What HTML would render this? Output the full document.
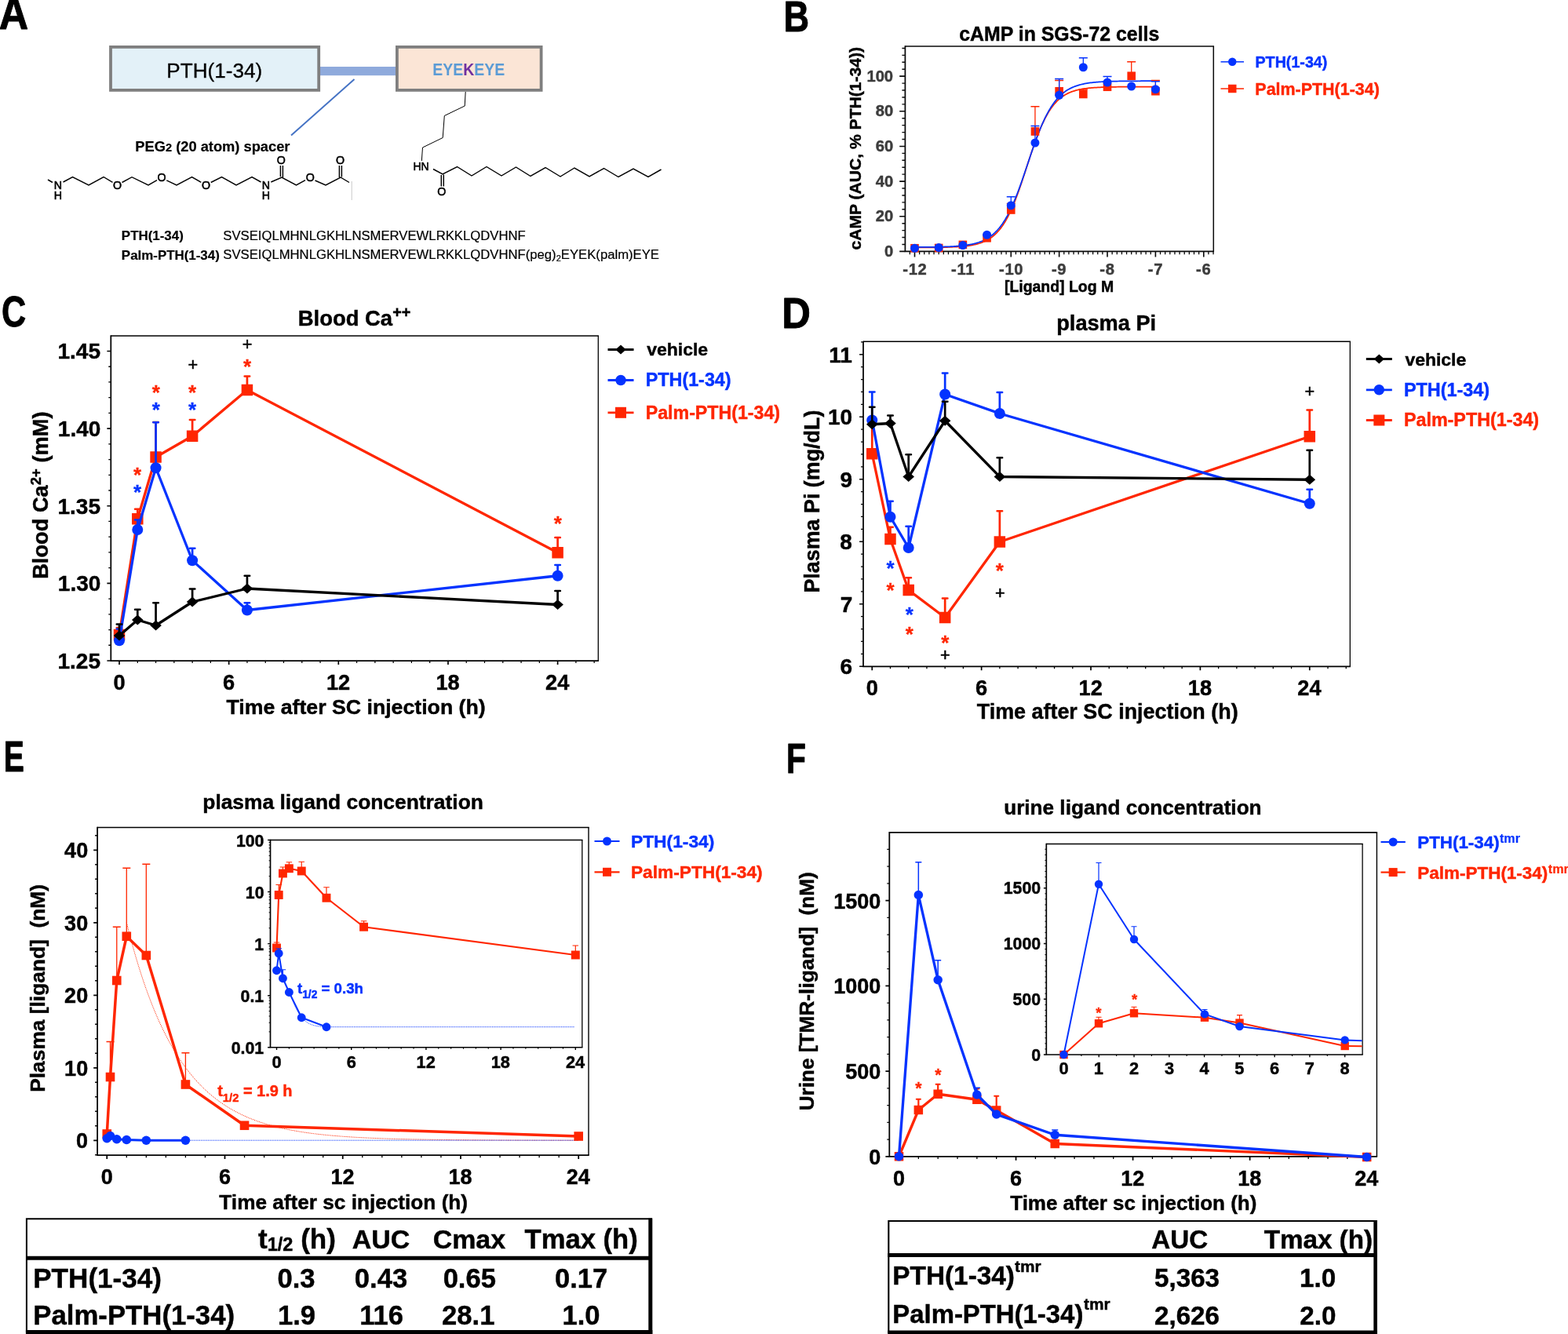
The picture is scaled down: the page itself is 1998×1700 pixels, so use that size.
<!DOCTYPE html>
<html lang="en"><head><meta charset="utf-8"><title>Figure</title>
<style>
html,body{margin:0;padding:0;background:#fff}
svg{display:block}
text{font-family:"Liberation Sans",sans-serif}
</style></head><body>
<svg width="1998" height="1700" viewBox="0 0 1998 1700">
<rect width="1998" height="1700" fill="#fff"/>
<g id="letters">
<text transform="translate(-1.14 37.35) scale(1.2948 1.4145)" font-size="40" font-weight="bold" fill="#000000" stroke="#000000" stroke-width="0.66" stroke-linejoin="round">A</text>
<text transform="translate(998.41 40.35) scale(1.1270 1.3782)" font-size="40" font-weight="bold" fill="#000000" stroke="#000000" stroke-width="0.72" stroke-linejoin="round">B</text>
<text transform="translate(2.12 415.8) scale(1.0802 1.3746)" font-size="40" font-weight="bold" fill="#000000" stroke="#000000" stroke-width="0.73" stroke-linejoin="round">C</text>
<text transform="translate(996.22 418.35) scale(1.2694 1.3709)" font-size="40" font-weight="bold" fill="#000000" stroke="#000000" stroke-width="0.68" stroke-linejoin="round">D</text>
<text transform="translate(4.81 983.15) scale(0.9777 1.3709)" font-size="40" font-weight="bold" fill="#000000" stroke="#000000" stroke-width="0.77" stroke-linejoin="round">E</text>
<text transform="translate(1001.9 985.35) scale(1.0197 1.3564)" font-size="40" font-weight="bold" fill="#000000" stroke="#000000" stroke-width="0.76" stroke-linejoin="round">F</text>
</g>
<g id="panelA">
<rect x="407" y="85" width="98" height="11.2" fill="#8faadc"/>
<rect x="141" y="59.9" width="265.2" height="55" fill="#e3f1f8" stroke="#7f7f7f" stroke-width="3.8"/>
<rect x="505.9" y="59.9" width="183.7" height="55" fill="#fbe5d6" stroke="#7f7f7f" stroke-width="3.8"/>
<text transform="translate(212.35 98.6) scale(0.6523 0.6582)" font-size="40" font-weight="normal" fill="#000" stroke="#000" stroke-width="0.5">PTH(1-34)</text>
<text transform="translate(551.18 96.3) scale(0.4873 0.5745)" font-size="40" font-weight="bold" fill="#5b9bd5">EYE<tspan fill="#7030a0">K</tspan>EYE</text>
<line x1="451.5" y1="101" x2="371" y2="172.5" stroke="#4472c4" stroke-width="1.9"/>
<text x="172.3" y="192.6" font-size="18.3" font-weight="bold" fill="#000" stroke="#000" stroke-width="0.2">PEG<tspan font-size="14.64">2</tspan> (20 atom) spacer</text>
<line x1="61" y1="229" x2="67" y2="232.5" stroke="#000000" stroke-width="1.45"/>
<text x="68.87" y="241.08" font-size="14.2" fill="#000" stroke="#000" stroke-width="0.55">N</text>
<text x="68.87" y="254.48" font-size="14.2" fill="#000" stroke="#000" stroke-width="0.55">H</text>
<path d="M80.5 232 L92.5 225.5 L113 236 L132 225.5 L143.5 232.3" stroke="#000000" stroke-width="1.45" fill="none"/>
<text x="143.98" y="241.08" font-size="14.2" fill="#000" stroke="#000" stroke-width="0.55">O</text>
<path d="M155.5 232.5 L168 225.7 L189 236 L200 229.6" stroke="#000000" stroke-width="1.45" fill="none"/>
<text x="200.48" y="231.18" font-size="14.2" fill="#000" stroke="#000" stroke-width="0.55">O</text>
<path d="M212.3 229.8 L225 236 L244.5 225.5 L256.3 232.3" stroke="#000000" stroke-width="1.45" fill="none"/>
<text x="256.98" y="241.08" font-size="14.2" fill="#000" stroke="#000" stroke-width="0.55">O</text>
<path d="M268.7 232.5 L282.5 225.5 L301 236 L321 225.5 L332.5 232" stroke="#000000" stroke-width="1.45" fill="none"/>
<text x="333.87" y="241.08" font-size="14.2" fill="#000" stroke="#000" stroke-width="0.55">N</text>
<text x="333.87" y="254.48" font-size="14.2" fill="#000" stroke="#000" stroke-width="0.55">H</text>
<path d="M345.3 232 L359 226 L377.5 236 L389 229.6" stroke="#000000" stroke-width="1.45" fill="none"/>
<path d="M357.4 211V225.3M360.4 211V226" stroke="#000000" stroke-width="1.45" fill="none"/>
<text x="352.78" y="209.18" font-size="14.2" fill="#000" stroke="#000" stroke-width="0.55">O</text>
<text x="389.78" y="231.18" font-size="14.2" fill="#000" stroke="#000" stroke-width="0.55">O</text>
<path d="M401.5 230 L415 236 L434 226 L445 232.5" stroke="#000000" stroke-width="1.45" fill="none"/>
<path d="M432.4 211V226M435.4 211V225.5" stroke="#000000" stroke-width="1.45" fill="none"/>
<text x="428.08" y="209.18" font-size="14.2" fill="#000" stroke="#000" stroke-width="0.55">O</text>
<line x1="448.2" y1="231" x2="448.2" y2="255" stroke="#c9c9c9" stroke-width="1"/>
<path d="M593.2 117 L592.2 135 L566.3 147.5 L564.2 175.5 L538.5 188 L537.3 205" stroke="#000000" stroke-width="1" fill="none"/>
<text x="526.38" y="217.41" font-size="14" fill="#000" stroke="#000" stroke-width="0.55">HN</text>
<path d="M552 215.5 L564 222 L582.5 212.5 L601 224 L620 212.5 L639 224 L657.5 213 L676 224.5 L695 213.5 L714 225 L732 214 L751 225 L769.5 214.5 L788 225.5 L807 215 L826 225.5 L842.5 216" stroke="#000000" stroke-width="1.45" fill="none"/>
<path d="M562.3 223V237.5M565.3 222.5V237.5" stroke="#000000" stroke-width="1.45" fill="none"/>
<text x="557.18" y="249.48" font-size="14.2" fill="#000" stroke="#000" stroke-width="0.55">O</text>
<text x="154.86" y="306" font-size="16.92" font-weight="bold" fill="#000000" stroke="#000000" stroke-width="0.2">PTH(1-34)</text>
<text x="284.25" y="306" font-size="16.69" font-weight="normal" fill="#000000" stroke="#000000" stroke-width="0.2">SVSEIQLMHNLGKHLNSMERVEWLRKKLQDVHNF</text>
<text x="154.86" y="331" font-size="16.91" font-weight="bold" fill="#000000" stroke="#000000" stroke-width="0.2">Palm-PTH(1-34)</text>
<text x="284.25" y="330.3" font-size="16.69" fill="#000" stroke="#000" stroke-width="0.2">SVSEIQLMHNLGKHLNSMERVEWLRKKLQDVHNF(peg)<tspan font-size="11.01" dy="2.2">2</tspan><tspan dy="-2.2">EYEK(palm)EYE</tspan></text>
</g>
<g id="panelB">
<path d="M1153.4 59H1547.05" stroke="#0a0a0a" stroke-width="1.61" fill="none"/>
<path d="M1546.3 59V320.4" stroke="#0a0a0a" stroke-width="1.5" fill="none"/>
<path d="M1153.4 58.25V320.4H1547.05" stroke="#0a0a0a" stroke-width="1.75" fill="none"/>
<path d="M1153.4 320.4h-7.2M1153.4 275.75h-7.2M1153.4 231.1h-7.2M1153.4 186.45h-7.2M1153.4 141.8h-7.2M1153.4 97.15h-7.2" stroke="#0a0a0a" stroke-width="1.6" fill="none"/>
<path d="M1153.4 311.47h-4M1153.4 302.54h-4M1153.4 293.61h-4M1153.4 284.68h-4M1153.4 266.82h-4M1153.4 257.89h-4M1153.4 248.96h-4M1153.4 240.03h-4M1153.4 222.17h-4M1153.4 213.24h-4M1153.4 204.31h-4M1153.4 195.38h-4M1153.4 177.52h-4M1153.4 168.59h-4M1153.4 159.66h-4M1153.4 150.73h-4M1153.4 132.87h-4M1153.4 123.94h-4M1153.4 115.01h-4M1153.4 106.08h-4M1153.4 88.22h-4M1153.4 79.29h-4M1153.4 70.36h-4M1153.4 61.43h-4" stroke="#0a0a0a" stroke-width="1.4" fill="none"/>
<path d="M1165.5 320.4v7.2M1226.88 320.4v7.2M1288.26 320.4v7.2M1349.64 320.4v7.2M1411.02 320.4v7.2M1472.4 320.4v7.2M1533.78 320.4v7.2" stroke="#0a0a0a" stroke-width="1.6" fill="none"/>
<path d="M1159.36 320.4v3.8M1171.64 320.4v3.8M1177.78 320.4v3.8M1183.91 320.4v3.8M1190.05 320.4v3.8M1196.19 320.4v3.8M1202.33 320.4v3.8M1208.47 320.4v3.8M1214.6 320.4v3.8M1220.74 320.4v3.8M1233.02 320.4v3.8M1239.16 320.4v3.8M1245.29 320.4v3.8M1251.43 320.4v3.8M1257.57 320.4v3.8M1263.71 320.4v3.8M1269.85 320.4v3.8M1275.98 320.4v3.8M1282.12 320.4v3.8M1294.4 320.4v3.8M1300.54 320.4v3.8M1306.67 320.4v3.8M1312.81 320.4v3.8M1318.95 320.4v3.8M1325.09 320.4v3.8M1331.23 320.4v3.8M1337.36 320.4v3.8M1343.5 320.4v3.8M1355.78 320.4v3.8M1361.92 320.4v3.8M1368.05 320.4v3.8M1374.19 320.4v3.8M1380.33 320.4v3.8M1386.47 320.4v3.8M1392.61 320.4v3.8M1398.74 320.4v3.8M1404.88 320.4v3.8M1417.16 320.4v3.8M1423.3 320.4v3.8M1429.43 320.4v3.8M1435.57 320.4v3.8M1441.71 320.4v3.8M1447.85 320.4v3.8M1453.99 320.4v3.8M1460.12 320.4v3.8M1466.26 320.4v3.8M1478.54 320.4v3.8M1484.68 320.4v3.8M1490.81 320.4v3.8M1496.95 320.4v3.8M1503.09 320.4v3.8M1509.23 320.4v3.8M1515.37 320.4v3.8M1521.5 320.4v3.8M1527.64 320.4v3.8M1539.92 320.4v3.8M1546.06 320.4v3.8" stroke="#0a0a0a" stroke-width="1.3" fill="none"/>
<path d="M1165.5 315.45 L1167.03 315.45 L1168.57 315.44 L1170.1 315.44 L1171.64 315.43 L1173.17 315.43 L1174.71 315.42 L1176.24 315.41 L1177.78 315.41 L1179.31 315.4 L1180.85 315.39 L1182.38 315.38 L1183.91 315.37 L1185.45 315.36 L1186.98 315.35 L1188.52 315.33 L1190.05 315.32 L1191.59 315.3 L1193.12 315.28 L1194.66 315.26 L1196.19 315.24 L1197.72 315.22 L1199.26 315.19 L1200.79 315.16 L1202.33 315.13 L1203.86 315.1 L1205.4 315.06 L1206.93 315.02 L1208.47 314.97 L1210 314.93 L1211.54 314.87 L1213.07 314.81 L1214.6 314.75 L1216.14 314.68 L1217.67 314.6 L1219.21 314.51 L1220.74 314.42 L1222.28 314.32 L1223.81 314.2 L1225.35 314.08 L1226.88 313.95 L1228.41 313.8 L1229.95 313.64 L1231.48 313.46 L1233.02 313.27 L1234.55 313.05 L1236.09 312.82 L1237.62 312.57 L1239.16 312.29 L1240.69 311.99 L1242.22 311.66 L1243.76 311.29 L1245.29 310.9 L1246.83 310.47 L1248.36 310 L1249.9 309.48 L1251.43 308.92 L1252.97 308.31 L1254.5 307.64 L1256.04 306.92 L1257.57 306.13 L1259.1 305.27 L1260.64 304.34 L1262.17 303.32 L1263.71 302.23 L1265.24 301.04 L1266.78 299.75 L1268.31 298.36 L1269.85 296.86 L1271.38 295.24 L1272.91 293.49 L1274.45 291.62 L1275.98 289.61 L1277.52 287.45 L1279.05 285.15 L1280.59 282.69 L1282.12 280.07 L1283.66 277.29 L1285.19 274.34 L1286.73 271.23 L1288.26 267.95 L1289.79 264.51 L1291.33 260.9 L1292.86 257.13 L1294.4 253.21 L1295.93 249.15 L1297.47 244.95 L1299 240.63 L1300.54 236.2 L1302.07 231.68 L1303.61 227.08 L1305.14 222.43 L1306.67 217.73 L1308.21 213.02 L1309.74 208.3 L1311.28 203.61 L1312.81 198.95 L1314.35 194.35 L1315.88 189.83 L1317.42 185.4 L1318.95 181.08 L1320.48 176.88 L1322.02 172.82 L1323.55 168.9 L1325.09 165.14 L1326.62 161.53 L1328.16 158.08 L1329.69 154.8 L1331.23 151.69 L1332.76 148.74 L1334.3 145.96 L1335.83 143.35 L1337.36 140.89 L1338.9 138.58 L1340.43 136.43 L1341.97 134.42 L1343.5 132.54 L1345.04 130.8 L1346.57 129.18 L1348.11 127.67 L1349.64 126.28 L1351.17 125 L1352.71 123.81 L1354.24 122.71 L1355.78 121.7 L1357.31 120.76 L1358.85 119.91 L1360.38 119.12 L1361.92 118.39 L1363.45 117.73 L1364.99 117.11 L1366.52 116.55 L1368.05 116.04 L1369.59 115.57 L1371.12 115.13 L1372.66 114.74 L1374.19 114.38 L1375.73 114.05 L1377.26 113.74 L1378.8 113.47 L1380.33 113.21 L1381.86 112.98 L1383.4 112.77 L1384.93 112.57 L1386.47 112.4 L1388 112.24 L1389.54 112.09 L1391.07 111.95 L1392.61 111.83 L1394.14 111.72 L1395.67 111.61 L1397.21 111.52 L1398.74 111.44 L1400.28 111.36 L1401.81 111.29 L1403.35 111.22 L1404.88 111.16 L1406.42 111.11 L1407.95 111.06 L1409.49 111.01 L1411.02 110.97 L1412.55 110.93 L1414.09 110.9 L1415.62 110.87 L1417.16 110.84 L1418.69 110.81 L1420.23 110.79 L1421.76 110.77 L1423.3 110.75 L1424.83 110.73 L1426.37 110.72 L1427.9 110.7 L1429.43 110.69 L1430.97 110.67 L1432.5 110.66 L1434.04 110.65 L1435.57 110.64 L1437.11 110.63 L1438.64 110.63 L1440.18 110.62 L1441.71 110.61 L1443.24 110.61 L1444.78 110.6 L1446.31 110.6 L1447.85 110.59 L1449.38 110.59 L1450.92 110.58 L1452.45 110.58 L1453.99 110.58 L1455.52 110.57 L1457.06 110.57 L1458.59 110.57 L1460.12 110.57 L1461.66 110.57 L1463.19 110.56 L1464.73 110.56 L1466.26 110.56 L1467.8 110.56 L1469.33 110.56 L1470.87 110.56 L1472.4 110.56" stroke="#ff2600" stroke-width="1.75" fill="none" stroke-linejoin="round"/>
<path d="M1165.5 314.98 L1167.03 314.97 L1168.57 314.97 L1170.1 314.96 L1171.64 314.95 L1173.17 314.94 L1174.71 314.93 L1176.24 314.92 L1177.78 314.91 L1179.31 314.9 L1180.85 314.89 L1182.38 314.88 L1183.91 314.86 L1185.45 314.84 L1186.98 314.83 L1188.52 314.81 L1190.05 314.79 L1191.59 314.76 L1193.12 314.74 L1194.66 314.71 L1196.19 314.68 L1197.72 314.65 L1199.26 314.61 L1200.79 314.57 L1202.33 314.53 L1203.86 314.49 L1205.4 314.44 L1206.93 314.38 L1208.47 314.32 L1210 314.26 L1211.54 314.19 L1213.07 314.11 L1214.6 314.03 L1216.14 313.94 L1217.67 313.84 L1219.21 313.73 L1220.74 313.61 L1222.28 313.48 L1223.81 313.34 L1225.35 313.19 L1226.88 313.03 L1228.41 312.85 L1229.95 312.65 L1231.48 312.44 L1233.02 312.21 L1234.55 311.95 L1236.09 311.68 L1237.62 311.38 L1239.16 311.06 L1240.69 310.71 L1242.22 310.32 L1243.76 309.91 L1245.29 309.46 L1246.83 308.97 L1248.36 308.44 L1249.9 307.86 L1251.43 307.24 L1252.97 306.56 L1254.5 305.83 L1256.04 305.04 L1257.57 304.18 L1259.1 303.26 L1260.64 302.26 L1262.17 301.18 L1263.71 300.02 L1265.24 298.77 L1266.78 297.43 L1268.31 295.98 L1269.85 294.43 L1271.38 292.77 L1272.91 290.99 L1274.45 289.08 L1275.98 287.05 L1277.52 284.89 L1279.05 282.58 L1280.59 280.14 L1282.12 277.55 L1283.66 274.81 L1285.19 271.92 L1286.73 268.88 L1288.26 265.68 L1289.79 262.34 L1291.33 258.85 L1292.86 255.21 L1294.4 251.43 L1295.93 247.53 L1297.47 243.49 L1299 239.35 L1300.54 235.1 L1302.07 230.75 L1303.61 226.33 L1305.14 221.85 L1306.67 217.33 L1308.21 212.77 L1309.74 208.2 L1311.28 203.63 L1312.81 199.08 L1314.35 194.57 L1315.88 190.11 L1317.42 185.72 L1318.95 181.41 L1320.48 177.2 L1322.02 173.1 L1323.55 169.12 L1325.09 165.26 L1326.62 161.54 L1328.16 157.96 L1329.69 154.53 L1331.23 151.24 L1332.76 148.11 L1334.3 145.13 L1335.83 142.3 L1337.36 139.62 L1338.9 137.09 L1340.43 134.7 L1341.97 132.45 L1343.5 130.34 L1345.04 128.36 L1346.57 126.51 L1348.11 124.77 L1349.64 123.16 L1351.17 121.65 L1352.71 120.24 L1354.24 118.94 L1355.78 117.72 L1357.31 116.59 L1358.85 115.55 L1360.38 114.58 L1361.92 113.68 L1363.45 112.86 L1364.99 112.09 L1366.52 111.38 L1368.05 110.73 L1369.59 110.12 L1371.12 109.56 L1372.66 109.05 L1374.19 108.58 L1375.73 108.14 L1377.26 107.74 L1378.8 107.37 L1380.33 107.03 L1381.86 106.72 L1383.4 106.43 L1384.93 106.16 L1386.47 105.92 L1388 105.69 L1389.54 105.49 L1391.07 105.3 L1392.61 105.13 L1394.14 104.97 L1395.67 104.82 L1397.21 104.68 L1398.74 104.56 L1400.28 104.45 L1401.81 104.34 L1403.35 104.25 L1404.88 104.16 L1406.42 104.08 L1407.95 104 L1409.49 103.94 L1411.02 103.87 L1412.55 103.82 L1414.09 103.76 L1415.62 103.71 L1417.16 103.67 L1418.69 103.63 L1420.23 103.59 L1421.76 103.56 L1423.3 103.53 L1424.83 103.5 L1426.37 103.47 L1427.9 103.45 L1429.43 103.42 L1430.97 103.4 L1432.5 103.39 L1434.04 103.37 L1435.57 103.35 L1437.11 103.34 L1438.64 103.33 L1440.18 103.31 L1441.71 103.3 L1443.24 103.29 L1444.78 103.28 L1446.31 103.27 L1447.85 103.27 L1449.38 103.26 L1450.92 103.25 L1452.45 103.25 L1453.99 103.24 L1455.52 103.23 L1457.06 103.23 L1458.59 103.23 L1460.12 103.22 L1461.66 103.22 L1463.19 103.21 L1464.73 103.21 L1466.26 103.21 L1467.8 103.21 L1469.33 103.2 L1470.87 103.2 L1472.4 103.2" stroke="#0433ff" stroke-width="1.75" fill="none" stroke-linejoin="round"/>
<path d="M1288.26 267.5V259.5M1282.76 259.5H1293.76" stroke="#ff2600" stroke-width="1.3" fill="none"/>
<path d="M1318.95 167.5V135.75M1313.45 135.75H1324.45" stroke="#ff2600" stroke-width="1.3" fill="none"/>
<path d="M1349.64 116.25V102.5M1344.14 102.5H1355.14" stroke="#ff2600" stroke-width="1.3" fill="none"/>
<path d="M1380.33 120V114M1374.83 114H1385.83" stroke="#ff2600" stroke-width="1.3" fill="none"/>
<path d="M1441.71 96.75V78.75M1436.21 78.75H1447.21" stroke="#ff2600" stroke-width="1.3" fill="none"/>
<path d="M1472.4 116.25V102.5M1466.9 102.5H1477.9" stroke="#ff2600" stroke-width="1.3" fill="none"/>
<rect x="1160.2" y="310.95" width="10.6" height="10.6" fill="#ff2600"/>
<rect x="1190.89" y="310.7" width="10.6" height="10.6" fill="#ff2600"/>
<rect x="1221.58" y="306.6" width="10.6" height="10.6" fill="#ff2600"/>
<rect x="1252.27" y="298" width="10.6" height="10.6" fill="#ff2600"/>
<rect x="1282.96" y="262.2" width="10.6" height="10.6" fill="#ff2600"/>
<rect x="1313.65" y="162.2" width="10.6" height="10.6" fill="#ff2600"/>
<rect x="1344.34" y="110.95" width="10.6" height="10.6" fill="#ff2600"/>
<rect x="1375.03" y="114.7" width="10.6" height="10.6" fill="#ff2600"/>
<rect x="1405.72" y="105.45" width="10.6" height="10.6" fill="#ff2600"/>
<rect x="1436.41" y="91.45" width="10.6" height="10.6" fill="#ff2600"/>
<rect x="1467.1" y="110.95" width="10.6" height="10.6" fill="#ff2600"/>
<path d="M1288.26 261.75V250.75M1282.76 250.75H1293.76" stroke="#0433ff" stroke-width="1.3" fill="none"/>
<path d="M1318.95 182V160.5M1313.45 160.5H1324.45" stroke="#0433ff" stroke-width="1.3" fill="none"/>
<path d="M1349.64 121.25V100.5M1344.14 100.5H1355.14" stroke="#0433ff" stroke-width="1.3" fill="none"/>
<path d="M1380.33 85.75V73.75M1374.83 73.75H1385.83" stroke="#0433ff" stroke-width="1.3" fill="none"/>
<path d="M1411.02 105V97.5M1405.52 97.5H1416.52" stroke="#0433ff" stroke-width="1.3" fill="none"/>
<path d="M1472.4 113.75V103.75M1466.9 103.75H1477.9" stroke="#0433ff" stroke-width="1.3" fill="none"/>
<circle cx="1165.5" cy="316.25" r="5.5" fill="#0433ff"/>
<circle cx="1196.19" cy="315.5" r="5.5" fill="#0433ff"/>
<circle cx="1226.88" cy="312.5" r="5.5" fill="#0433ff"/>
<circle cx="1257.57" cy="299.25" r="5.5" fill="#0433ff"/>
<circle cx="1288.26" cy="261.75" r="5.5" fill="#0433ff"/>
<circle cx="1318.95" cy="182" r="5.5" fill="#0433ff"/>
<circle cx="1349.64" cy="121.25" r="5.5" fill="#0433ff"/>
<circle cx="1380.33" cy="85.75" r="5.5" fill="#0433ff"/>
<circle cx="1411.02" cy="105" r="5.5" fill="#0433ff"/>
<circle cx="1441.71" cy="110" r="5.5" fill="#0433ff"/>
<circle cx="1472.4" cy="113.75" r="5.5" fill="#0433ff"/>
<text x="1126.9" y="326.9" font-size="20.2" font-weight="bold" fill="#3c3c3c" stroke="#3c3c3c" stroke-width="0.45">0</text>
<text x="1115.69" y="282.25" font-size="20.2" font-weight="bold" fill="#3c3c3c" stroke="#3c3c3c" stroke-width="0.45">20</text>
<text x="1115.69" y="237.6" font-size="20.2" font-weight="bold" fill="#3c3c3c" stroke="#3c3c3c" stroke-width="0.45">40</text>
<text x="1115.69" y="192.95" font-size="20.2" font-weight="bold" fill="#3c3c3c" stroke="#3c3c3c" stroke-width="0.45">60</text>
<text x="1115.69" y="148.3" font-size="20.2" font-weight="bold" fill="#3c3c3c" stroke="#3c3c3c" stroke-width="0.45">80</text>
<text x="1104.42" y="103.65" font-size="20.2" font-weight="bold" fill="#3c3c3c" stroke="#3c3c3c" stroke-width="0.45">100</text>
<text x="1150.21" y="350.2" font-size="20.2" font-weight="bold" fill="#3c3c3c" letter-spacing="0.7" stroke="#3c3c3c" stroke-width="0.45">-12</text>
<text x="1212.01" y="350.2" font-size="20.2" font-weight="bold" fill="#3c3c3c" letter-spacing="0.7" stroke="#3c3c3c" stroke-width="0.45">-11</text>
<text x="1272.97" y="350.2" font-size="20.2" font-weight="bold" fill="#3c3c3c" letter-spacing="0.7" stroke="#3c3c3c" stroke-width="0.45">-10</text>
<text x="1339.93" y="350.2" font-size="20.2" font-weight="bold" fill="#3c3c3c" letter-spacing="0.7" stroke="#3c3c3c" stroke-width="0.45">-9</text>
<text x="1401.26" y="350.2" font-size="20.2" font-weight="bold" fill="#3c3c3c" letter-spacing="0.7" stroke="#3c3c3c" stroke-width="0.45">-8</text>
<text x="1462.76" y="350.2" font-size="20.2" font-weight="bold" fill="#3c3c3c" letter-spacing="0.7" stroke="#3c3c3c" stroke-width="0.45">-7</text>
<text x="1524.07" y="350.2" font-size="20.2" font-weight="bold" fill="#3c3c3c" letter-spacing="0.7" stroke="#3c3c3c" stroke-width="0.45">-6</text>
<text x="1279.93" y="372.4" font-size="19.45" font-weight="bold" fill="#000000" stroke="#000000" stroke-width="0.45">[Ligand] Log M</text>
<text x="1222.31" y="51.8" font-size="24.85" font-weight="bold" fill="#000000" stroke="#000000" stroke-width="0.45">cAMP in SGS-72 cells</text>
<text transform="translate(1097.4 318.44) rotate(-90)" font-size="21.08" font-weight="bold" fill="#000000" stroke="#000000" stroke-width="0.45">cAMP (AUC, % PTH(1-34))</text>
<line x1="1555.5" y1="78.8" x2="1585" y2="78.8" stroke="#0433ff" stroke-width="1.5"/>
<circle cx="1570.25" cy="78.8" r="5.25" fill="#0433ff"/>
<text x="1599.47" y="86.2" font-size="19.71" font-weight="bold" fill="#0433ff" stroke="#0433ff" stroke-width="0.45">PTH(1-34)</text>
<line x1="1555.5" y1="113" x2="1585" y2="113" stroke="#ff2600" stroke-width="1.5"/>
<rect x="1565" y="107.75" width="10.5" height="10.5" fill="#ff2600"/>
<text x="1599.35" y="120.5" font-size="21.45" font-weight="bold" fill="#ff2600" stroke="#ff2600" stroke-width="0.45">Palm-PTH(1-34)</text>
</g>
<g id="panelC">
<path d="M141.3 428H762.95" stroke="#000000" stroke-width="1.61" fill="none"/>
<path d="M762.3 428V842" stroke="#000000" stroke-width="1.3" fill="none"/>
<path d="M141.3 427.35V842H762.95" stroke="#000000" stroke-width="1.75" fill="none"/>
<path d="M141.3 842h-4.9M141.3 743.37h-4.9M141.3 644.75h-4.9M141.3 546.13h-4.9M141.3 447.5h-4.9" stroke="#000000" stroke-width="1.7" fill="none"/>
<path d="M141.3 822.27h-3M141.3 802.55h-3M141.3 782.82h-3M141.3 763.1h-3M141.3 723.65h-3M141.3 703.92h-3M141.3 684.2h-3M141.3 664.47h-3M141.3 625.02h-3M141.3 605.3h-3M141.3 585.58h-3M141.3 565.85h-3M141.3 526.4h-3M141.3 506.68h-3M141.3 486.95h-3M141.3 467.23h-3" stroke="#000000" stroke-width="1.3" fill="none"/>
<path d="M152 842v4.9M291.65 842v4.9M431.3 842v4.9M570.95 842v4.9M710.6 842v4.9" stroke="#000000" stroke-width="1.7" fill="none"/>
<path d="M175.28 842v3M198.55 842v3M221.82 842v3M245.1 842v3M268.38 842v3M314.92 842v3M338.2 842v3M361.48 842v3M384.75 842v3M408.02 842v3M454.57 842v3M477.85 842v3M501.12 842v3M524.4 842v3M547.67 842v3M594.22 842v3M617.5 842v3M640.77 842v3M664.05 842v3M687.32 842v3M733.88 842v3M757.15 842v3" stroke="#000000" stroke-width="1.3" fill="none"/>
<path d="M152 809V800M148.8 800H155.2" stroke="#ff2600" stroke-width="2.7" fill="none" stroke-linecap="round"/>
<path d="M175.28 661.25V648.75M172.08 648.75H178.47" stroke="#ff2600" stroke-width="2.7" fill="none" stroke-linecap="round"/>
<path d="M198.55 582.5V538M195.35 538H201.75" stroke="#ff2600" stroke-width="2.7" fill="none" stroke-linecap="round"/>
<path d="M245.1 555.75V535M241.9 535H248.3" stroke="#ff2600" stroke-width="2.7" fill="none" stroke-linecap="round"/>
<path d="M314.92 497V479.5M311.72 479.5H318.12" stroke="#ff2600" stroke-width="2.7" fill="none" stroke-linecap="round"/>
<path d="M710.6 704.25V685M707.4 685H713.8" stroke="#ff2600" stroke-width="2.7" fill="none" stroke-linecap="round"/>
<path d="M152 809 L175.28 661.25 L198.55 582.5 L245.1 555.75 L314.92 497 L710.6 704.25" stroke="#ff2600" stroke-width="3.3" fill="none" stroke-linejoin="round"/>
<rect x="144.75" y="801.75" width="14.5" height="14.5" fill="#ff2600"/>
<rect x="168.03" y="654" width="14.5" height="14.5" fill="#ff2600"/>
<rect x="191.3" y="575.25" width="14.5" height="14.5" fill="#ff2600"/>
<rect x="237.85" y="548.5" width="14.5" height="14.5" fill="#ff2600"/>
<rect x="307.67" y="489.75" width="14.5" height="14.5" fill="#ff2600"/>
<rect x="703.35" y="697" width="14.5" height="14.5" fill="#ff2600"/>
<path d="M152 816.25V801.5M148.8 801.5H155.2" stroke="#0433ff" stroke-width="2.7" fill="none" stroke-linecap="round"/>
<path d="M175.28 675V662.5M172.08 662.5H178.47" stroke="#0433ff" stroke-width="2.7" fill="none" stroke-linecap="round"/>
<path d="M198.55 596.25V538.25M195.35 538.25H201.75" stroke="#0433ff" stroke-width="2.7" fill="none" stroke-linecap="round"/>
<path d="M245.1 714.25V698.75M241.9 698.75H248.3" stroke="#0433ff" stroke-width="2.7" fill="none" stroke-linecap="round"/>
<path d="M314.92 777.5V768.25M311.72 768.25H318.12" stroke="#0433ff" stroke-width="2.7" fill="none" stroke-linecap="round"/>
<path d="M710.6 733.75V720M707.4 720H713.8" stroke="#0433ff" stroke-width="2.7" fill="none" stroke-linecap="round"/>
<path d="M152 816.25 L175.28 675 L198.55 596.25 L245.1 714.25 L314.92 777.5 L710.6 733.75" stroke="#0433ff" stroke-width="3.3" fill="none" stroke-linejoin="round"/>
<circle cx="152" cy="816.25" r="7" fill="#0433ff"/>
<circle cx="175.28" cy="675" r="7" fill="#0433ff"/>
<circle cx="198.55" cy="596.25" r="7" fill="#0433ff"/>
<circle cx="245.1" cy="714.25" r="7" fill="#0433ff"/>
<circle cx="314.92" cy="777.5" r="7" fill="#0433ff"/>
<circle cx="710.6" cy="733.75" r="7" fill="#0433ff"/>
<path d="M152 810V795.5M148.8 795.5H155.2" stroke="#000000" stroke-width="2.7" fill="none" stroke-linecap="round"/>
<path d="M175.28 790V776.75M172.08 776.75H178.47" stroke="#000000" stroke-width="2.7" fill="none" stroke-linecap="round"/>
<path d="M198.55 797V768.25M195.35 768.25H201.75" stroke="#000000" stroke-width="2.7" fill="none" stroke-linecap="round"/>
<path d="M245.1 767V750.5M241.9 750.5H248.3" stroke="#000000" stroke-width="2.7" fill="none" stroke-linecap="round"/>
<path d="M314.92 750V733.75M311.72 733.75H318.12" stroke="#000000" stroke-width="2.7" fill="none" stroke-linecap="round"/>
<path d="M710.6 770.5V753M707.4 753H713.8" stroke="#000000" stroke-width="2.7" fill="none" stroke-linecap="round"/>
<path d="M152 810 L175.28 790 L198.55 797 L245.1 767 L314.92 750 L710.6 770.5" stroke="#000000" stroke-width="3.3" fill="none" stroke-linejoin="round"/>
<path d="M152 803.58L159.3 810L152 816.42L144.7 810Z" fill="#000000"/>
<path d="M175.28 783.58L182.58 790L175.28 796.42L167.97 790Z" fill="#000000"/>
<path d="M198.55 790.58L205.85 797L198.55 803.42L191.25 797Z" fill="#000000"/>
<path d="M245.1 760.58L252.4 767L245.1 773.42L237.8 767Z" fill="#000000"/>
<path d="M314.92 743.58L322.22 750L314.92 756.42L307.62 750Z" fill="#000000"/>
<path d="M710.6 764.08L717.9 770.5L710.6 776.92L703.3 770.5Z" fill="#000000"/>
<text x="73.51" y="851.8" font-size="28" font-weight="bold" fill="#000000" stroke="#000000" stroke-width="0.45">1.25</text>
<text x="73.86" y="753.17" font-size="28" font-weight="bold" fill="#000000" stroke="#000000" stroke-width="0.45">1.30</text>
<text x="73.51" y="654.55" font-size="28" font-weight="bold" fill="#000000" stroke="#000000" stroke-width="0.45">1.35</text>
<text x="73.86" y="555.93" font-size="28" font-weight="bold" fill="#000000" stroke="#000000" stroke-width="0.45">1.40</text>
<text x="73.51" y="457.3" font-size="28" font-weight="bold" fill="#000000" stroke="#000000" stroke-width="0.45">1.45</text>
<text x="144.45" y="879.4" font-size="27.2" font-weight="bold" fill="#000000" stroke="#000000" stroke-width="0.45">0</text>
<text x="284.07" y="879.4" font-size="27.2" font-weight="bold" fill="#000000" stroke="#000000" stroke-width="0.45">6</text>
<text x="415.9" y="879.4" font-size="27.2" font-weight="bold" fill="#000000" stroke="#000000" stroke-width="0.45">12</text>
<text x="555.41" y="879.4" font-size="27.2" font-weight="bold" fill="#000000" stroke="#000000" stroke-width="0.45">18</text>
<text x="695.1" y="879.4" font-size="27.2" font-weight="bold" fill="#000000" stroke="#000000" stroke-width="0.45">24</text>
<text x="288.53" y="909.6" font-size="26.7" font-weight="bold" fill="#000000" stroke="#000000" stroke-width="0.45">Time after SC injection (h)</text>
<text x="379.75" y="415" font-size="27.43" font-weight="bold" fill="#000000" stroke="#000000" stroke-width="0.45">Blood Ca</text>
<text x="500.2" y="404.85" font-size="19.75" font-weight="bold" fill="#000000" stroke="#000000" stroke-width="0.45">++</text>
<text transform="translate(61.3 737.84) rotate(-90)" font-size="27.26" font-weight="bold" fill="#000000" stroke="#000000" stroke-width="0.45">Blood Ca<tspan font-size="68%" dy="-0.5em">2+</tspan><tspan dy="0.34em"> (mM)</tspan></text>
<text x="193.69" y="509.02" font-size="25.97" font-weight="bold" fill="#ff2600" stroke="#ff2600" stroke-width="0.3">*</text>
<text x="193.69" y="531.02" font-size="25.97" font-weight="bold" fill="#0433ff" stroke="#0433ff" stroke-width="0.3">*</text>
<text x="239.94" y="509.02" font-size="25.97" font-weight="bold" fill="#ff2600" stroke="#ff2600" stroke-width="0.3">*</text>
<text x="239.94" y="531.02" font-size="25.97" font-weight="bold" fill="#0433ff" stroke="#0433ff" stroke-width="0.3">*</text>
<text x="309.94" y="475.52" font-size="25.97" font-weight="bold" fill="#ff2600" stroke="#ff2600" stroke-width="0.3">*</text>
<text x="169.94" y="614.02" font-size="25.97" font-weight="bold" fill="#ff2600" stroke="#ff2600" stroke-width="0.3">*</text>
<text x="169.94" y="636.02" font-size="25.97" font-weight="bold" fill="#0433ff" stroke="#0433ff" stroke-width="0.3">*</text>
<text x="705.69" y="676.02" font-size="25.97" font-weight="bold" fill="#ff2600" stroke="#ff2600" stroke-width="0.3">*</text>
<text x="239.42" y="472.2" font-size="21.65" font-weight="normal" fill="#000000" stroke="#000000" stroke-width="0.55">+</text>
<text x="308.67" y="445.95" font-size="21.65" font-weight="normal" fill="#000000" stroke="#000000" stroke-width="0.55">+</text>
<line x1="774.5" y1="445.5" x2="807.5" y2="445.5" stroke="#000000" stroke-width="2.8"/>
<path d="M791 439.56L797.75 445.5L791 451.44L784.25 445.5Z" fill="#000000"/>
<text x="824.19" y="453.3" font-size="22.97" font-weight="bold" fill="#000000" stroke="#000000" stroke-width="0.45">vehicle</text>
<line x1="774.5" y1="484.5" x2="807.5" y2="484.5" stroke="#0433ff" stroke-width="2.8"/>
<circle cx="791" cy="484.5" r="6.75" fill="#0433ff"/>
<text x="822.72" y="492" font-size="23.34" font-weight="bold" fill="#0433ff" stroke="#0433ff" stroke-width="0.45">PTH(1-34)</text>
<line x1="774.5" y1="525.8" x2="807.5" y2="525.8" stroke="#ff2600" stroke-width="2.8"/>
<rect x="784" y="518.8" width="14" height="14" fill="#ff2600"/>
<text x="822.73" y="533.8" font-size="23.2" font-weight="bold" fill="#ff2600" stroke="#ff2600" stroke-width="0.45">Palm-PTH(1-34)</text>
</g>
<g id="panelD">
<path d="M1100 435.3H1720.95" stroke="#000000" stroke-width="1.61" fill="none"/>
<path d="M1720.3 435.3V849.3" stroke="#000000" stroke-width="1.3" fill="none"/>
<path d="M1100 434.65V849.3H1720.95" stroke="#000000" stroke-width="1.75" fill="none"/>
<path d="M1100 849.25h-4.9M1100 769.75h-4.9M1100 690.25h-4.9M1100 610.75h-4.9M1100 531.25h-4.9M1100 451.75h-4.9" stroke="#000000" stroke-width="1.7" fill="none"/>
<path d="M1100 833.35h-3M1100 817.45h-3M1100 801.55h-3M1100 785.65h-3M1100 753.85h-3M1100 737.95h-3M1100 722.05h-3M1100 706.15h-3M1100 674.35h-3M1100 658.45h-3M1100 642.55h-3M1100 626.65h-3M1100 594.85h-3M1100 578.95h-3M1100 563.05h-3M1100 547.15h-3M1100 515.35h-3M1100 499.45h-3M1100 483.55h-3M1100 467.65h-3M1100 435.85h-3" stroke="#000000" stroke-width="1.3" fill="none"/>
<path d="M1111.25 849.3v4.9M1250.63 849.3v4.9M1390.01 849.3v4.9M1529.39 849.3v4.9M1668.77 849.3v4.9" stroke="#000000" stroke-width="1.7" fill="none"/>
<path d="M1134.48 849.3v3M1157.71 849.3v3M1180.94 849.3v3M1204.17 849.3v3M1227.4 849.3v3M1273.86 849.3v3M1297.09 849.3v3M1320.32 849.3v3M1343.55 849.3v3M1366.78 849.3v3M1413.24 849.3v3M1436.47 849.3v3M1459.7 849.3v3M1482.93 849.3v3M1506.16 849.3v3M1552.62 849.3v3M1575.85 849.3v3M1599.08 849.3v3M1622.31 849.3v3M1645.54 849.3v3M1692 849.3v3M1715.23 849.3v3" stroke="#000000" stroke-width="1.3" fill="none"/>
<path d="M1111.25 578.25V541.5M1108.05 541.5H1114.45" stroke="#ff2600" stroke-width="2.7" fill="none" stroke-linecap="round"/>
<path d="M1134.48 687V671.75M1131.28 671.75H1137.68" stroke="#ff2600" stroke-width="2.7" fill="none" stroke-linecap="round"/>
<path d="M1157.71 752V736.25M1154.51 736.25H1160.91" stroke="#ff2600" stroke-width="2.7" fill="none" stroke-linecap="round"/>
<path d="M1204.17 787V762.5M1200.97 762.5H1207.37" stroke="#ff2600" stroke-width="2.7" fill="none" stroke-linecap="round"/>
<path d="M1273.86 690.5V651.25M1270.66 651.25H1277.06" stroke="#ff2600" stroke-width="2.7" fill="none" stroke-linecap="round"/>
<path d="M1668.77 556.25V522.5M1665.57 522.5H1671.97" stroke="#ff2600" stroke-width="2.7" fill="none" stroke-linecap="round"/>
<path d="M1111.25 578.25 L1134.48 687 L1157.71 752 L1204.17 787 L1273.86 690.5 L1668.77 556.25" stroke="#ff2600" stroke-width="3.3" fill="none" stroke-linejoin="round"/>
<rect x="1104" y="571" width="14.5" height="14.5" fill="#ff2600"/>
<rect x="1127.23" y="679.75" width="14.5" height="14.5" fill="#ff2600"/>
<rect x="1150.46" y="744.75" width="14.5" height="14.5" fill="#ff2600"/>
<rect x="1196.92" y="779.75" width="14.5" height="14.5" fill="#ff2600"/>
<rect x="1266.61" y="683.25" width="14.5" height="14.5" fill="#ff2600"/>
<rect x="1661.52" y="549" width="14.5" height="14.5" fill="#ff2600"/>
<path d="M1111.25 535.5V499.5M1108.05 499.5H1114.45" stroke="#0433ff" stroke-width="2.7" fill="none" stroke-linecap="round"/>
<path d="M1134.48 658.75V638.75M1131.28 638.75H1137.68" stroke="#0433ff" stroke-width="2.7" fill="none" stroke-linecap="round"/>
<path d="M1157.71 698V670.75M1154.51 670.75H1160.91" stroke="#0433ff" stroke-width="2.7" fill="none" stroke-linecap="round"/>
<path d="M1204.17 502.5V475.5M1200.97 475.5H1207.37" stroke="#0433ff" stroke-width="2.7" fill="none" stroke-linecap="round"/>
<path d="M1273.86 527V500M1270.66 500H1277.06" stroke="#0433ff" stroke-width="2.7" fill="none" stroke-linecap="round"/>
<path d="M1668.77 641.75V623.75M1665.57 623.75H1671.97" stroke="#0433ff" stroke-width="2.7" fill="none" stroke-linecap="round"/>
<path d="M1111.25 535.5 L1134.48 658.75 L1157.71 698 L1204.17 502.5 L1273.86 527 L1668.77 641.75" stroke="#0433ff" stroke-width="3.3" fill="none" stroke-linejoin="round"/>
<circle cx="1111.25" cy="535.5" r="7" fill="#0433ff"/>
<circle cx="1134.48" cy="658.75" r="7" fill="#0433ff"/>
<circle cx="1157.71" cy="698" r="7" fill="#0433ff"/>
<circle cx="1204.17" cy="502.5" r="7" fill="#0433ff"/>
<circle cx="1273.86" cy="527" r="7" fill="#0433ff"/>
<circle cx="1668.77" cy="641.75" r="7" fill="#0433ff"/>
<path d="M1111.25 540.75V518.75M1108.05 518.75H1114.45" stroke="#000000" stroke-width="2.7" fill="none" stroke-linecap="round"/>
<path d="M1134.48 539.5V529.5M1131.28 529.5H1137.68" stroke="#000000" stroke-width="2.7" fill="none" stroke-linecap="round"/>
<path d="M1157.71 607.5V579.25M1154.51 579.25H1160.91" stroke="#000000" stroke-width="2.7" fill="none" stroke-linecap="round"/>
<path d="M1204.17 536.25V511.75M1200.97 511.75H1207.37" stroke="#000000" stroke-width="2.7" fill="none" stroke-linecap="round"/>
<path d="M1273.86 607.5V583.25M1270.66 583.25H1277.06" stroke="#000000" stroke-width="2.7" fill="none" stroke-linecap="round"/>
<path d="M1668.77 611.25V573.75M1665.57 573.75H1671.97" stroke="#000000" stroke-width="2.7" fill="none" stroke-linecap="round"/>
<path d="M1111.25 540.75 L1134.48 539.5 L1157.71 607.5 L1204.17 536.25 L1273.86 607.5 L1668.77 611.25" stroke="#000000" stroke-width="3.3" fill="none" stroke-linejoin="round"/>
<path d="M1111.25 534.33L1118.55 540.75L1111.25 547.17L1103.95 540.75Z" fill="#000000"/>
<path d="M1134.48 533.08L1141.78 539.5L1134.48 545.92L1127.18 539.5Z" fill="#000000"/>
<path d="M1157.71 601.08L1165.01 607.5L1157.71 613.92L1150.41 607.5Z" fill="#000000"/>
<path d="M1204.17 529.83L1211.47 536.25L1204.17 542.67L1196.87 536.25Z" fill="#000000"/>
<path d="M1273.86 601.08L1281.16 607.5L1273.86 613.92L1266.56 607.5Z" fill="#000000"/>
<path d="M1668.77 604.83L1676.07 611.25L1668.77 617.67L1661.47 611.25Z" fill="#000000"/>
<text x="1070.44" y="859.05" font-size="28" font-weight="bold" fill="#000000" stroke="#000000" stroke-width="0.45">6</text>
<text x="1070.65" y="779.55" font-size="28" font-weight="bold" fill="#000000" stroke="#000000" stroke-width="0.45">7</text>
<text x="1070.3" y="700.05" font-size="28" font-weight="bold" fill="#000000" stroke="#000000" stroke-width="0.45">8</text>
<text x="1070.44" y="620.55" font-size="28" font-weight="bold" fill="#000000" stroke="#000000" stroke-width="0.45">9</text>
<text x="1055.04" y="541.05" font-size="28" font-weight="bold" fill="#000000" stroke="#000000" stroke-width="0.45">10</text>
<text x="1056.23" y="461.55" font-size="28" font-weight="bold" fill="#000000" stroke="#000000" stroke-width="0.45">11</text>
<text x="1103.7" y="886.1" font-size="27.2" font-weight="bold" fill="#000000" stroke="#000000" stroke-width="0.45">0</text>
<text x="1243.05" y="886.1" font-size="27.2" font-weight="bold" fill="#000000" stroke="#000000" stroke-width="0.45">6</text>
<text x="1374.61" y="886.1" font-size="27.2" font-weight="bold" fill="#000000" stroke="#000000" stroke-width="0.45">12</text>
<text x="1513.85" y="886.1" font-size="27.2" font-weight="bold" fill="#000000" stroke="#000000" stroke-width="0.45">18</text>
<text x="1653.27" y="886.1" font-size="27.2" font-weight="bold" fill="#000000" stroke="#000000" stroke-width="0.45">24</text>
<text x="1244.73" y="915.8" font-size="26.91" font-weight="bold" fill="#000000" stroke="#000000" stroke-width="0.45">Time after SC injection (h)</text>
<text x="1346.23" y="421.3" font-size="27.19" font-weight="bold" fill="#000000" stroke="#000000" stroke-width="0.45">plasma Pi</text>
<text transform="translate(1043.5 755.61) rotate(-90)" font-size="26.88" font-weight="bold" fill="#000000" stroke="#000000" stroke-width="0.45">Plasma Pi (mg/dL)</text>
<text x="1129.44" y="733.02" font-size="25.97" font-weight="bold" fill="#0433ff" stroke="#0433ff" stroke-width="0.3">*</text>
<text x="1129.44" y="760.52" font-size="25.97" font-weight="bold" fill="#ff2600" stroke="#ff2600" stroke-width="0.3">*</text>
<text x="1153.69" y="791.77" font-size="25.97" font-weight="bold" fill="#0433ff" stroke="#0433ff" stroke-width="0.3">*</text>
<text x="1153.69" y="817.27" font-size="25.97" font-weight="bold" fill="#ff2600" stroke="#ff2600" stroke-width="0.3">*</text>
<text x="1199.19" y="828.02" font-size="25.97" font-weight="bold" fill="#ff2600" stroke="#ff2600" stroke-width="0.3">*</text>
<text x="1268.69" y="735.52" font-size="25.97" font-weight="bold" fill="#ff2600" stroke="#ff2600" stroke-width="0.3">*</text>
<text x="1197.92" y="841.7" font-size="21.65" font-weight="normal" fill="#000000" stroke="#000000" stroke-width="0.55">+</text>
<text x="1267.92" y="762.95" font-size="21.65" font-weight="normal" fill="#000000" stroke="#000000" stroke-width="0.55">+</text>
<text x="1662.42" y="506.45" font-size="21.65" font-weight="normal" fill="#000000" stroke="#000000" stroke-width="0.55">+</text>
<line x1="1740.8" y1="457.5" x2="1773.8" y2="457.5" stroke="#000000" stroke-width="2.8"/>
<path d="M1757.3 451.56L1764.05 457.5L1757.3 463.44L1750.55 457.5Z" fill="#000000"/>
<text x="1790.39" y="465.5" font-size="22.97" font-weight="bold" fill="#000000" stroke="#000000" stroke-width="0.45">vehicle</text>
<line x1="1740.8" y1="496.8" x2="1773.8" y2="496.8" stroke="#0433ff" stroke-width="2.8"/>
<circle cx="1757.3" cy="496.8" r="6.75" fill="#0433ff"/>
<text x="1788.92" y="504.5" font-size="23.41" font-weight="bold" fill="#0433ff" stroke="#0433ff" stroke-width="0.45">PTH(1-34)</text>
<line x1="1740.8" y1="535.5" x2="1773.8" y2="535.5" stroke="#ff2600" stroke-width="2.8"/>
<rect x="1750.3" y="528.5" width="14" height="14" fill="#ff2600"/>
<text x="1788.93" y="543.3" font-size="23.31" font-weight="bold" fill="#ff2600" stroke="#ff2600" stroke-width="0.45">Palm-PTH(1-34)</text>
</g>
<g id="panelE">
<path d="M124.1 1054.5H750.7" stroke="#000000" stroke-width="1.66" fill="none"/>
<path d="M750 1054.5V1472.2" stroke="#000000" stroke-width="1.4" fill="none"/>
<path d="M124.1 1053.8V1472.2H750.7" stroke="#000000" stroke-width="1.8" fill="none"/>
<path d="M124.1 1453.25h-4.9M124.1 1360.75h-4.9M124.1 1268.25h-4.9M124.1 1175.75h-4.9M124.1 1083.25h-4.9" stroke="#000000" stroke-width="1.75" fill="none"/>
<path d="M124.1 1471.75h-3M124.1 1434.75h-3M124.1 1416.25h-3M124.1 1397.75h-3M124.1 1379.25h-3M124.1 1342.25h-3M124.1 1323.75h-3M124.1 1305.25h-3M124.1 1286.75h-3M124.1 1249.75h-3M124.1 1231.25h-3M124.1 1212.75h-3M124.1 1194.25h-3M124.1 1157.25h-3M124.1 1138.75h-3M124.1 1120.25h-3M124.1 1101.75h-3M124.1 1064.75h-3" stroke="#000000" stroke-width="1.3" fill="none"/>
<path d="M136.25 1472.2v4.9M286.49 1472.2v4.9M436.73 1472.2v4.9M586.97 1472.2v4.9M737.21 1472.2v4.9" stroke="#000000" stroke-width="1.75" fill="none"/>
<path d="M161.29 1472.2v3M186.33 1472.2v3M211.37 1472.2v3M236.41 1472.2v3M261.45 1472.2v3M311.53 1472.2v3M336.57 1472.2v3M361.61 1472.2v3M386.65 1472.2v3M411.69 1472.2v3M461.77 1472.2v3M486.81 1472.2v3M511.85 1472.2v3M536.89 1472.2v3M561.93 1472.2v3M612.01 1472.2v3M637.05 1472.2v3M662.09 1472.2v3M687.13 1472.2v3M712.17 1472.2v3" stroke="#000000" stroke-width="1.3" fill="none"/>
<path d="M161.29 1175.75 L163.79 1185.69 L166.3 1195.28 L168.8 1204.52 L171.31 1213.43 L173.81 1222.02 L176.31 1230.3 L178.82 1238.29 L181.32 1245.99 L183.83 1253.42 L186.33 1260.57 L188.83 1267.48 L191.34 1274.13 L193.84 1280.55 L196.35 1286.74 L198.85 1292.7 L201.35 1298.45 L203.86 1304 L206.36 1309.34 L208.87 1314.5 L211.37 1319.47 L213.87 1324.26 L216.38 1328.88 L218.88 1333.34 L221.39 1337.63 L223.89 1341.78 L226.39 1345.77 L228.9 1349.62 L231.4 1353.33 L233.91 1356.91 L236.41 1360.36 L238.91 1363.69 L241.42 1366.9 L243.92 1369.99 L246.43 1372.98 L248.93 1375.85 L251.43 1378.62 L253.94 1381.3 L256.44 1383.88 L258.95 1386.36 L261.45 1388.76 L263.95 1391.07 L266.46 1393.29 L268.96 1395.44 L271.47 1397.51 L273.97 1399.51 L276.47 1401.44 L278.98 1403.29 L281.48 1405.08 L283.99 1406.81 L286.49 1408.47 L288.99 1410.07 L291.5 1411.62 L294 1413.11 L296.51 1414.55 L299.01 1415.94 L301.51 1417.27 L304.02 1418.56 L306.52 1419.81 L309.03 1421 L311.53 1422.16 L314.03 1423.27 L316.54 1424.35 L319.04 1425.38 L321.55 1426.38 L324.05 1427.34 L326.55 1428.27 L329.06 1429.17 L331.56 1430.03 L334.07 1430.86 L336.57 1431.66 L339.07 1432.44 L341.58 1433.18 L344.08 1433.9 L346.59 1434.59 L349.09 1435.26 L351.59 1435.91 L354.1 1436.53 L356.6 1437.13 L359.11 1437.7 L361.61 1438.26 L364.11 1438.8 L366.62 1439.32 L369.12 1439.82 L371.63 1440.3 L374.13 1440.76 L376.63 1441.21 L379.14 1441.64 L381.64 1442.06 L384.15 1442.46 L386.65 1442.84 L389.15 1443.22 L391.66 1443.58 L394.16 1443.92 L396.67 1444.26 L399.17 1444.58 L401.67 1444.89 L404.18 1445.19 L406.68 1445.48 L409.19 1445.76 L411.69 1446.02 L414.19 1446.28 L416.7 1446.53 L419.2 1446.77 L421.71 1447.01 L424.21 1447.23 L426.71 1447.44 L429.22 1447.65 L431.72 1447.85 L434.23 1448.05 L436.73 1448.23 L439.23 1448.41 L441.74 1448.59 L444.24 1448.75 L446.75 1448.91 L449.25 1449.07 L451.75 1449.22 L454.26 1449.36 L456.76 1449.5 L459.27 1449.64 L461.77 1449.77 L464.27 1449.89 L466.78 1450.01 L469.28 1450.13 L471.79 1450.24 L474.29 1450.35 L476.79 1450.45 L479.3 1450.55 L481.8 1450.65 L484.31 1450.74 L486.81 1450.83 L489.31 1450.92 L491.82 1451 L494.32 1451.08 L496.83 1451.16 L499.33 1451.23 L501.83 1451.31 L504.34 1451.38 L506.84 1451.44 L509.35 1451.51 L511.85 1451.57 L514.35 1451.63 L516.86 1451.69 L519.36 1451.74 L521.87 1451.8 L524.37 1451.85 L526.87 1451.9 L529.38 1451.95 L531.88 1452 L534.39 1452.04 L536.89 1452.08 L539.39 1452.13 L541.9 1452.17 L544.4 1452.2 L546.91 1452.24 L549.41 1452.28 L551.91 1452.31 L554.42 1452.35 L556.92 1452.38 L559.43 1452.41 L561.93 1452.44 L564.43 1452.47 L566.94 1452.5 L569.44 1452.52 L571.95 1452.55 L574.45 1452.58 L576.95 1452.6 L579.46 1452.62 L581.96 1452.65 L584.47 1452.67 L586.97 1452.69 L589.47 1452.71 L591.98 1452.73 L594.48 1452.75 L596.99 1452.76 L599.49 1452.78 L601.99 1452.8 L604.5 1452.81 L607 1452.83 L609.51 1452.85 L612.01 1452.86 L614.51 1452.87 L617.02 1452.89 L619.52 1452.9 L622.03 1452.91 L624.53 1452.92 L627.03 1452.94 L629.54 1452.95 L632.04 1452.96 L634.55 1452.97 L637.05 1452.98 L639.55 1452.99 L642.06 1453 L644.56 1453.01 L647.07 1453.02 L649.57 1453.02 L652.07 1453.03 L654.58 1453.04 L657.08 1453.05 L659.59 1453.05 L662.09 1453.06 L664.59 1453.07 L667.1 1453.08 L669.6 1453.08 L672.11 1453.09 L674.61 1453.09 L677.11 1453.1 L679.62 1453.1 L682.12 1453.11 L684.63 1453.11 L687.13 1453.12 L689.63 1453.12 L692.14 1453.13 L694.64 1453.13 L697.15 1453.14 L699.65 1453.14 L702.15 1453.15 L704.66 1453.15 L707.16 1453.15 L709.67 1453.16 L712.17 1453.16 L714.67 1453.16 L717.18 1453.17 L719.68 1453.17 L722.19 1453.17 L724.69 1453.17 L727.19 1453.18 L729.7 1453.18 L732.2 1453.18 L734.71 1453.18 L737.21 1453.19" stroke="#ff2600" stroke-width="1" fill="none" stroke-dasharray="1.1 1.1"/>
<line x1="236.3" y1="1453.2" x2="737" y2="1453.2" stroke="#0433ff" stroke-width="1" stroke-dasharray="1.1 1.1"/>
<path d="M136.25 1445V1441M131.25 1441H141.25" stroke="#ff2600" stroke-width="1.3" fill="none"/>
<path d="M140.51 1372.5V1327.5M135.51 1327.5H145.51" stroke="#ff2600" stroke-width="1.3" fill="none"/>
<path d="M148.77 1249.5V1181.25M143.77 1181.25H153.77" stroke="#ff2600" stroke-width="1.3" fill="none"/>
<path d="M161.29 1193.25V1106.25M156.29 1106.25H166.29" stroke="#ff2600" stroke-width="1.3" fill="none"/>
<path d="M186.33 1217.5V1101.25M181.33 1101.25H191.33" stroke="#ff2600" stroke-width="1.3" fill="none"/>
<path d="M236.41 1382V1341.75M231.41 1341.75H241.41" stroke="#ff2600" stroke-width="1.3" fill="none"/>
<path d="M136.25 1445 L140.51 1372.5 L148.77 1249.5 L161.29 1193.25 L186.33 1217.5 L236.41 1382 L311.53 1434.25 L737.21 1448" stroke="#ff2600" stroke-width="3.5" fill="none" stroke-linejoin="round"/>
<rect x="130.45" y="1439.2" width="11.6" height="11.6" fill="#ff2600"/>
<rect x="134.71" y="1366.7" width="11.6" height="11.6" fill="#ff2600"/>
<rect x="142.97" y="1243.7" width="11.6" height="11.6" fill="#ff2600"/>
<rect x="155.49" y="1187.45" width="11.6" height="11.6" fill="#ff2600"/>
<rect x="180.53" y="1211.7" width="11.6" height="11.6" fill="#ff2600"/>
<rect x="230.61" y="1376.2" width="11.6" height="11.6" fill="#ff2600"/>
<rect x="305.73" y="1428.45" width="11.6" height="11.6" fill="#ff2600"/>
<rect x="731.41" y="1442.2" width="11.6" height="11.6" fill="#ff2600"/>
<path d="M136.25 1450.75 L140.51 1447.5 L148.77 1451.75 L161.29 1452.5 L186.33 1453.25 L236.41 1453.25" stroke="#0433ff" stroke-width="2.9" fill="none" stroke-linejoin="round"/>
<circle cx="136.25" cy="1450.75" r="5.8" fill="#0433ff"/>
<circle cx="140.51" cy="1447.5" r="5.8" fill="#0433ff"/>
<circle cx="148.77" cy="1451.75" r="5.8" fill="#0433ff"/>
<circle cx="161.29" cy="1452.5" r="5.8" fill="#0433ff"/>
<circle cx="186.33" cy="1453.25" r="5.8" fill="#0433ff"/>
<circle cx="236.41" cy="1453.25" r="5.8" fill="#0433ff"/>
<text x="97.09" y="1463.25" font-size="27" font-weight="bold" fill="#000000" stroke="#000000" stroke-width="0.45">0</text>
<text x="82.11" y="1370.75" font-size="27" font-weight="bold" fill="#000000" stroke="#000000" stroke-width="0.45">10</text>
<text x="82.11" y="1278.25" font-size="27" font-weight="bold" fill="#000000" stroke="#000000" stroke-width="0.45">20</text>
<text x="82.11" y="1185.75" font-size="27" font-weight="bold" fill="#000000" stroke="#000000" stroke-width="0.45">30</text>
<text x="82.11" y="1093.25" font-size="27" font-weight="bold" fill="#000000" stroke="#000000" stroke-width="0.45">40</text>
<text x="128.76" y="1509" font-size="27" font-weight="bold" fill="#000000" stroke="#000000" stroke-width="0.45">0</text>
<text x="278.96" y="1509" font-size="27" font-weight="bold" fill="#000000" stroke="#000000" stroke-width="0.45">6</text>
<text x="421.44" y="1509" font-size="27" font-weight="bold" fill="#000000" stroke="#000000" stroke-width="0.45">12</text>
<text x="571.55" y="1509" font-size="27" font-weight="bold" fill="#000000" stroke="#000000" stroke-width="0.45">18</text>
<text x="721.82" y="1509" font-size="27" font-weight="bold" fill="#000000" stroke="#000000" stroke-width="0.45">24</text>
<text x="279.34" y="1540.6" font-size="26.19" font-weight="bold" fill="#000000" stroke="#000000" stroke-width="0.45">Time after sc injection (h)</text>
<text x="258.28" y="1030.5" font-size="26.39" font-weight="bold" fill="#000000" stroke="#000000" stroke-width="0.45">plasma ligand concentration</text>
<text transform="translate(57 1391.78) rotate(-90)" font-size="26.33" font-weight="bold" fill="#000000" stroke="#000000" stroke-width="0.45">Plasma [ligand] &#160;(nM)</text>
<text x="277.2" y="1397" font-size="19.96" font-weight="bold" fill="#ff2600" stroke="#ff2600" stroke-width="0.45" xml:space="preserve">t<tspan font-size="14.77" dy="6.98">1/2</tspan><tspan dy="-6.98"> = 1.9 h</tspan></text>
<path d="M344.5 1070.5H742.45" stroke="#000000" stroke-width="1.56" fill="none"/>
<path d="M741.8 1070.5V1334.75" stroke="#000000" stroke-width="1.3" fill="none"/>
<path d="M344.5 1069.85V1334.75H742.45" stroke="#000000" stroke-width="1.7" fill="none"/>
<path d="M344.5 1334.75h-3.4M344.5 1268.69h-3.4M344.5 1202.63h-3.4M344.5 1136.57h-3.4M344.5 1070.51h-3.4" stroke="#000000" stroke-width="1.4" fill="none"/>
<path d="M344.5 1314.86h-1.9M344.5 1303.23h-1.9M344.5 1294.98h-1.9M344.5 1288.58h-1.9M344.5 1283.35h-1.9M344.5 1278.92h-1.9M344.5 1275.09h-1.9M344.5 1271.71h-1.9M344.5 1248.8h-1.9M344.5 1237.17h-1.9M344.5 1228.92h-1.9M344.5 1222.52h-1.9M344.5 1217.29h-1.9M344.5 1212.86h-1.9M344.5 1209.03h-1.9M344.5 1205.65h-1.9M344.5 1182.74h-1.9M344.5 1171.11h-1.9M344.5 1162.86h-1.9M344.5 1156.46h-1.9M344.5 1151.23h-1.9M344.5 1146.8h-1.9M344.5 1142.97h-1.9M344.5 1139.59h-1.9M344.5 1116.68h-1.9M344.5 1105.05h-1.9M344.5 1096.8h-1.9M344.5 1090.4h-1.9M344.5 1085.17h-1.9M344.5 1080.74h-1.9M344.5 1076.91h-1.9M344.5 1073.53h-1.9" stroke="#000000" stroke-width="1" fill="none"/>
<path d="M352.5 1334.75v3.3M447.7 1334.75v3.3M542.9 1334.75v3.3M638.11 1334.75v3.3M733.31 1334.75v3.3" stroke="#000000" stroke-width="1.4" fill="none"/>
<path d="M368.37 1334.75v2M384.23 1334.75v2M400.1 1334.75v2M415.97 1334.75v2M431.84 1334.75v2M463.57 1334.75v2M479.44 1334.75v2M495.3 1334.75v2M511.17 1334.75v2M527.04 1334.75v2M558.77 1334.75v2M574.64 1334.75v2M590.5 1334.75v2M606.37 1334.75v2M622.24 1334.75v2M653.97 1334.75v2M669.84 1334.75v2M685.71 1334.75v2M701.57 1334.75v2M717.44 1334.75v2" stroke="#000000" stroke-width="1.1" fill="none"/>
<line x1="415.8" y1="1308.7" x2="732.5" y2="1308.7" stroke="#0433ff" stroke-width="1" stroke-dasharray="1.1 1.1"/>
<path d="M368.37 1263.46 L369.16 1265.64 L369.95 1267.77 L370.75 1269.85 L371.54 1271.88 L372.33 1273.86 L373.13 1275.78 L373.92 1277.65 L374.71 1279.46 L375.51 1281.2 L376.3 1282.89 L377.09 1284.51 L377.89 1286.06 L378.68 1287.55 L379.47 1288.97 L380.27 1290.33 L381.06 1291.62 L381.85 1292.84 L382.65 1294 L383.44 1295.1 L384.23 1296.13 L385.03 1297.1 L385.82 1298.01 L386.61 1298.86 L387.41 1299.66 L388.2 1300.41 L388.99 1301.1 L389.79 1301.74 L390.58 1302.34 L391.37 1302.89 L392.17 1303.41 L392.96 1303.88 L393.75 1304.32 L394.55 1304.72 L395.34 1305.09 L396.13 1305.43 L396.93 1305.74 L397.72 1306.03 L398.51 1306.29 L399.31 1306.54 L400.1 1306.76 L400.89 1306.96 L401.69 1307.14 L402.48 1307.31 L403.27 1307.47 L404.07 1307.61 L404.86 1307.74 L405.65 1307.85 L406.45 1307.96 L407.24 1308.06 L408.03 1308.15 L408.83 1308.23 L409.62 1308.3 L410.41 1308.37 L411.21 1308.43 L412 1308.49 L412.79 1308.54 L413.59 1308.58 L414.38 1308.62 L415.17 1308.66 L415.97 1308.7" stroke="#0433ff" stroke-width="1" fill="none" stroke-dasharray="1.1 1.1"/>
<path d="M352.5 1208V1201M348.75 1201H356.25" stroke="#ff2600" stroke-width="1.2" fill="none"/>
<path d="M355.2 1140.5V1127.5M351.45 1127.5H358.95" stroke="#ff2600" stroke-width="1.2" fill="none"/>
<path d="M360.43 1113V1105M356.68 1105H364.18" stroke="#ff2600" stroke-width="1.2" fill="none"/>
<path d="M368.37 1106.75V1098.75M364.62 1098.75H372.12" stroke="#ff2600" stroke-width="1.2" fill="none"/>
<path d="M384.23 1110V1098.25M380.48 1098.25H387.98" stroke="#ff2600" stroke-width="1.2" fill="none"/>
<path d="M415.97 1144.25V1130.75M412.22 1130.75H419.72" stroke="#ff2600" stroke-width="1.2" fill="none"/>
<path d="M463.57 1181.25V1173.75M459.82 1173.75H467.32" stroke="#ff2600" stroke-width="1.2" fill="none"/>
<path d="M733.31 1217V1205M729.56 1205H737.06" stroke="#ff2600" stroke-width="1.2" fill="none"/>
<path d="M352.5 1208 L355.2 1140.5 L360.43 1113 L368.37 1106.75 L384.23 1110 L415.97 1144.25 L463.57 1181.25 L733.31 1217" stroke="#ff2600" stroke-width="2.1" fill="none" stroke-linejoin="round"/>
<rect x="347.05" y="1202.55" width="10.9" height="10.9" fill="#ff2600"/>
<rect x="349.75" y="1135.05" width="10.9" height="10.9" fill="#ff2600"/>
<rect x="354.98" y="1107.55" width="10.9" height="10.9" fill="#ff2600"/>
<rect x="362.92" y="1101.3" width="10.9" height="10.9" fill="#ff2600"/>
<rect x="378.78" y="1104.55" width="10.9" height="10.9" fill="#ff2600"/>
<rect x="410.52" y="1138.8" width="10.9" height="10.9" fill="#ff2600"/>
<rect x="458.12" y="1175.8" width="10.9" height="10.9" fill="#ff2600"/>
<rect x="727.86" y="1211.55" width="10.9" height="10.9" fill="#ff2600"/>
<path d="M355.2 1215V1208.75M351.45 1208.75H358.95" stroke="#0433ff" stroke-width="1.2" fill="none"/>
<path d="M360.43 1246.75V1235.75M356.68 1235.75H364.18" stroke="#0433ff" stroke-width="1.2" fill="none"/>
<path d="M352.5 1236.75 L355.2 1215 L360.43 1246.75 L368.37 1264.5 L384.23 1296.75 L415.97 1308.75" stroke="#0433ff" stroke-width="2" fill="none" stroke-linejoin="round"/>
<circle cx="352.5" cy="1236.75" r="5.45" fill="#0433ff"/>
<circle cx="355.2" cy="1215" r="5.45" fill="#0433ff"/>
<circle cx="360.43" cy="1246.75" r="5.45" fill="#0433ff"/>
<circle cx="368.37" cy="1264.5" r="5.45" fill="#0433ff"/>
<circle cx="384.23" cy="1296.75" r="5.45" fill="#0433ff"/>
<circle cx="415.97" cy="1308.75" r="5.45" fill="#0433ff"/>
<text x="300.93" y="1078.61" font-size="21.3" font-weight="bold" fill="#000000" stroke="#000000" stroke-width="0.45">100</text>
<text x="312.81" y="1144.67" font-size="21.3" font-weight="bold" fill="#000000" stroke="#000000" stroke-width="0.45">10</text>
<text x="324.36" y="1210.73" font-size="21.3" font-weight="bold" fill="#000000" stroke="#000000" stroke-width="0.45">1</text>
<text x="306.58" y="1276.79" font-size="21.3" font-weight="bold" fill="#000000" stroke="#000000" stroke-width="0.45">0.1</text>
<text x="294.76" y="1342.85" font-size="21.3" font-weight="bold" fill="#000000" stroke="#000000" stroke-width="0.45">0.01</text>
<text x="346.45" y="1361.3" font-size="21.8" font-weight="bold" fill="#000000" stroke="#000000" stroke-width="0.45">0</text>
<text x="441.63" y="1361.3" font-size="21.8" font-weight="bold" fill="#000000" stroke="#000000" stroke-width="0.45">6</text>
<text x="530.56" y="1361.3" font-size="21.8" font-weight="bold" fill="#000000" stroke="#000000" stroke-width="0.45">12</text>
<text x="625.65" y="1361.3" font-size="21.8" font-weight="bold" fill="#000000" stroke="#000000" stroke-width="0.45">18</text>
<text x="720.88" y="1361.3" font-size="21.8" font-weight="bold" fill="#000000" stroke="#000000" stroke-width="0.45">24</text>
<text x="378.93" y="1265.8" font-size="18.67" font-weight="bold" fill="#0433ff" stroke="#0433ff" stroke-width="0.45" xml:space="preserve">t<tspan font-size="13.82" dy="6.53">1/2</tspan><tspan dy="-6.53"> = 0.3h</tspan></text>
<line x1="757.5" y1="1072" x2="789.5" y2="1072" stroke="#0433ff" stroke-width="2.2"/>
<circle cx="773.5" cy="1072" r="5.5" fill="#0433ff"/>
<text x="803.96" y="1080" font-size="22.81" font-weight="bold" fill="#0433ff" stroke="#0433ff" stroke-width="0.45">PTH(1-34)</text>
<line x1="757.5" y1="1111.3" x2="789.5" y2="1111.3" stroke="#ff2600" stroke-width="2.2"/>
<rect x="768" y="1105.8" width="11" height="11" fill="#ff2600"/>
<text x="803.97" y="1119.3" font-size="22.69" font-weight="bold" fill="#ff2600" stroke="#ff2600" stroke-width="0.45">Palm-PTH(1-34)</text>
<path d="M33.9 1698V1553.3H831" stroke="#000000" stroke-width="2" fill="none"/>
<path d="M33 1603.3H831" stroke="#000000" stroke-width="5" fill="none"/>
<path d="M828.8 1552.4V1700" stroke="#000000" stroke-width="5" fill="none"/>
<path d="M32.9 1697.6H831.3" stroke="#000000" stroke-width="5" fill="none"/>
<text x="329.1" y="1590.7" font-size="35.06" font-weight="bold" fill="#000000" stroke="#000000" stroke-width="0.45" xml:space="preserve">t<tspan font-size="23.49" dy="3.51">1/2</tspan><tspan dy="-3.51"> (h)</tspan></text>
<text x="448.79" y="1591" font-size="33.91" font-weight="bold" fill="#000000" stroke="#000000" stroke-width="0.45">AUC</text>
<text x="551.69" y="1591" font-size="33.91" font-weight="bold" fill="#000000" stroke="#000000" stroke-width="0.45">Cmax</text>
<text x="668.59" y="1591" font-size="34.6" font-weight="bold" fill="#000000" stroke="#000000" stroke-width="0.45">Tmax (h)</text>
<text x="42.23" y="1640.6" font-size="35.1" font-weight="bold" fill="#000000" stroke="#000000" stroke-width="0.45">PTH(1-34)</text>
<text x="353.47" y="1640.6" font-size="34.6" font-weight="bold" fill="#000000" stroke="#000000" stroke-width="0.45">0.3</text>
<text x="451.87" y="1640.6" font-size="34.6" font-weight="bold" fill="#000000" stroke="#000000" stroke-width="0.45">0.43</text>
<text x="564.64" y="1640.6" font-size="34.6" font-weight="bold" fill="#000000" stroke="#000000" stroke-width="0.45">0.65</text>
<text x="706.99" y="1640.6" font-size="34.6" font-weight="bold" fill="#000000" stroke="#000000" stroke-width="0.45">0.17</text>
<text x="42.25" y="1687.6" font-size="34.75" font-weight="bold" fill="#000000" stroke="#000000" stroke-width="0.45">Palm-PTH(1-34)</text>
<text x="353.98" y="1687.6" font-size="34.6" font-weight="bold" fill="#000000" stroke="#000000" stroke-width="0.45">1.9</text>
<text x="458.13" y="1687.6" font-size="34.6" font-weight="bold" fill="#000000" stroke="#000000" stroke-width="0.45">116</text>
<text x="563.12" y="1687.6" font-size="34.6" font-weight="bold" fill="#000000" stroke="#000000" stroke-width="0.45">28.1</text>
<text x="716.46" y="1687.6" font-size="34.6" font-weight="bold" fill="#000000" stroke="#000000" stroke-width="0.45">1.0</text>
</g>
<g id="panelF">
<path d="M1133.3 1060.8H1755.1" stroke="#000000" stroke-width="1.66" fill="none"/>
<path d="M1754.4 1060.8V1473.9" stroke="#000000" stroke-width="1.4" fill="none"/>
<path d="M1133.3 1060.1V1473.9H1755.1" stroke="#000000" stroke-width="1.8" fill="none"/>
<path d="M1133.3 1473.9h-4.9M1133.3 1365.15h-4.9M1133.3 1256.4h-4.9M1133.3 1147.65h-4.9" stroke="#000000" stroke-width="1.75" fill="none"/>
<path d="M1133.3 1452.15h-3M1133.3 1430.4h-3M1133.3 1408.65h-3M1133.3 1386.9h-3M1133.3 1343.4h-3M1133.3 1321.65h-3M1133.3 1299.9h-3M1133.3 1278.15h-3M1133.3 1234.65h-3M1133.3 1212.9h-3M1133.3 1191.15h-3M1133.3 1169.4h-3M1133.3 1125.9h-3M1133.3 1104.15h-3M1133.3 1082.4h-3" stroke="#000000" stroke-width="1.3" fill="none"/>
<path d="M1145.5 1473.9v4.9M1294.54 1473.9v4.9M1443.58 1473.9v4.9M1592.62 1473.9v4.9M1741.66 1473.9v4.9" stroke="#000000" stroke-width="1.75" fill="none"/>
<path d="M1170.34 1473.9v3M1195.18 1473.9v3M1220.02 1473.9v3M1244.86 1473.9v3M1269.7 1473.9v3M1319.38 1473.9v3M1344.22 1473.9v3M1369.06 1473.9v3M1393.9 1473.9v3M1418.74 1473.9v3M1468.42 1473.9v3M1493.26 1473.9v3M1518.1 1473.9v3M1542.94 1473.9v3M1567.78 1473.9v3M1617.46 1473.9v3M1642.3 1473.9v3M1667.14 1473.9v3M1691.98 1473.9v3M1716.82 1473.9v3" stroke="#000000" stroke-width="1.3" fill="none"/>
<path d="M1170.34 1414.5V1400.75M1167.84 1400.75H1172.84" stroke="#ff2600" stroke-width="2.2" fill="none" stroke-linecap="round"/>
<path d="M1195.18 1394.25V1381.75M1192.68 1381.75H1197.68" stroke="#ff2600" stroke-width="2.2" fill="none" stroke-linecap="round"/>
<path d="M1244.86 1401.25V1387.5M1242.36 1387.5H1247.36" stroke="#ff2600" stroke-width="2.2" fill="none" stroke-linecap="round"/>
<path d="M1269.7 1415V1396.75M1267.2 1396.75H1272.2" stroke="#ff2600" stroke-width="2.2" fill="none" stroke-linecap="round"/>
<path d="M1145.5 1473.75 L1170.34 1414.5 L1195.18 1394.25 L1244.86 1401.25 L1269.7 1415 L1344.22 1457.5 L1741.66 1474.5" stroke="#ff2600" stroke-width="3.35" fill="none" stroke-linejoin="round"/>
<rect x="1139.75" y="1468" width="11.5" height="11.5" fill="#ff2600"/>
<rect x="1164.59" y="1408.75" width="11.5" height="11.5" fill="#ff2600"/>
<rect x="1189.43" y="1388.5" width="11.5" height="11.5" fill="#ff2600"/>
<rect x="1239.11" y="1395.5" width="11.5" height="11.5" fill="#ff2600"/>
<rect x="1263.95" y="1409.25" width="11.5" height="11.5" fill="#ff2600"/>
<rect x="1338.47" y="1451.75" width="11.5" height="11.5" fill="#ff2600"/>
<rect x="1735.91" y="1468.75" width="11.5" height="11.5" fill="#ff2600"/>
<path d="M1170.34 1140.5V1098.75M1166.34 1098.75H1174.34" stroke="#0433ff" stroke-width="1.5" fill="none"/>
<path d="M1195.18 1248.75V1223.75M1191.18 1223.75H1199.18" stroke="#0433ff" stroke-width="1.5" fill="none"/>
<path d="M1244.86 1395V1386.25M1240.86 1386.25H1248.86" stroke="#0433ff" stroke-width="1.5" fill="none"/>
<path d="M1344.22 1446.25V1440M1340.22 1440H1348.22" stroke="#0433ff" stroke-width="1.5" fill="none"/>
<path d="M1145.5 1473.75 L1170.34 1140.5 L1195.18 1248.75 L1244.86 1395 L1269.7 1420 L1344.22 1446.25 L1741.66 1474.5" stroke="#0433ff" stroke-width="3.35" fill="none" stroke-linejoin="round"/>
<circle cx="1145.5" cy="1473.75" r="5.75" fill="#0433ff"/>
<circle cx="1170.34" cy="1140.5" r="5.75" fill="#0433ff"/>
<circle cx="1195.18" cy="1248.75" r="5.75" fill="#0433ff"/>
<circle cx="1244.86" cy="1395" r="5.75" fill="#0433ff"/>
<circle cx="1269.7" cy="1420" r="5.75" fill="#0433ff"/>
<circle cx="1344.22" cy="1446.25" r="5.75" fill="#0433ff"/>
<circle cx="1741.66" cy="1474.5" r="5.75" fill="#0433ff"/>
<text x="1107.3" y="1483.9" font-size="27" font-weight="bold" fill="#000000" stroke="#000000" stroke-width="0.45">0</text>
<text x="1077.26" y="1375.15" font-size="27" font-weight="bold" fill="#000000" stroke="#000000" stroke-width="0.45">500</text>
<text x="1062.27" y="1266.4" font-size="27" font-weight="bold" fill="#000000" stroke="#000000" stroke-width="0.45">1000</text>
<text x="1062.27" y="1157.65" font-size="27" font-weight="bold" fill="#000000" stroke="#000000" stroke-width="0.45">1500</text>
<text x="1138.01" y="1510.5" font-size="27" font-weight="bold" fill="#000000" stroke="#000000" stroke-width="0.45">0</text>
<text x="1287.01" y="1510.5" font-size="27" font-weight="bold" fill="#000000" stroke="#000000" stroke-width="0.45">6</text>
<text x="1428.29" y="1510.5" font-size="27" font-weight="bold" fill="#000000" stroke="#000000" stroke-width="0.45">12</text>
<text x="1577.2" y="1510.5" font-size="27" font-weight="bold" fill="#000000" stroke="#000000" stroke-width="0.45">18</text>
<text x="1726.27" y="1510.5" font-size="27" font-weight="bold" fill="#000000" stroke="#000000" stroke-width="0.45">24</text>
<text x="1287.24" y="1542" font-size="25.97" font-weight="bold" fill="#000000" stroke="#000000" stroke-width="0.45">Time after sc injection (h)</text>
<text x="1279.16" y="1038" font-size="26.17" font-weight="bold" fill="#000000" stroke="#000000" stroke-width="0.45">urine ligand concentration</text>
<text transform="translate(1037.3 1415.37) rotate(-90)" font-size="26.21" font-weight="bold" fill="#000000" stroke="#000000" stroke-width="0.45">Urine [TMR-ligand] &#160;(nM)</text>
<text x="1166.35" y="1394.43" font-size="21.3" font-weight="bold" fill="#ff2600" stroke="#ff2600" stroke-width="0.3">*</text>
<text x="1191.35" y="1376.93" font-size="21.3" font-weight="bold" fill="#ff2600" stroke="#ff2600" stroke-width="0.3">*</text>
<path d="M1333.3 1075.5H1736.75" stroke="#000000" stroke-width="1.56" fill="none"/>
<path d="M1736.1 1075.5V1344" stroke="#000000" stroke-width="1.3" fill="none"/>
<path d="M1333.3 1074.85V1344H1736.75" stroke="#000000" stroke-width="1.7" fill="none"/>
<path d="M1333.3 1344h-3.4M1333.3 1273.25h-3.4M1333.3 1202.5h-3.4M1333.3 1131.75h-3.4" stroke="#000000" stroke-width="1.4" fill="none"/>
<path d="M1333.3 1336.92h-1.9M1333.3 1329.85h-1.9M1333.3 1322.78h-1.9M1333.3 1315.7h-1.9M1333.3 1308.62h-1.9M1333.3 1301.55h-1.9M1333.3 1294.47h-1.9M1333.3 1287.4h-1.9M1333.3 1280.33h-1.9M1333.3 1266.17h-1.9M1333.3 1259.1h-1.9M1333.3 1252.03h-1.9M1333.3 1244.95h-1.9M1333.3 1237.88h-1.9M1333.3 1230.8h-1.9M1333.3 1223.72h-1.9M1333.3 1216.65h-1.9M1333.3 1209.58h-1.9M1333.3 1195.42h-1.9M1333.3 1188.35h-1.9M1333.3 1181.28h-1.9M1333.3 1174.2h-1.9M1333.3 1167.12h-1.9M1333.3 1160.05h-1.9M1333.3 1152.97h-1.9M1333.3 1145.9h-1.9M1333.3 1138.83h-1.9M1333.3 1124.67h-1.9M1333.3 1117.6h-1.9M1333.3 1110.53h-1.9M1333.3 1103.45h-1.9M1333.3 1096.38h-1.9M1333.3 1089.3h-1.9M1333.3 1082.22h-1.9" stroke="#000000" stroke-width="1" fill="none"/>
<path d="M1355.5 1344v3.3M1400.27 1344v3.3M1445.04 1344v3.3M1489.81 1344v3.3M1534.58 1344v3.3M1579.35 1344v3.3M1624.12 1344v3.3M1668.89 1344v3.3M1713.66 1344v3.3" stroke="#000000" stroke-width="1.4" fill="none"/>
<path d="M1377.88 1344v2M1422.65 1344v2M1467.42 1344v2M1512.19 1344v2M1556.96 1344v2M1601.74 1344v2M1646.51 1344v2M1691.28 1344v2" stroke="#000000" stroke-width="1.1" fill="none"/>
<path d="M1713.7 1333 L1735.5 1333.3" stroke="#ff2600" stroke-width="2" fill="none" stroke-linejoin="round"/>
<path d="M1400 1304.25V1296.25M1396.5 1296.25H1403.5" stroke="#ff2600" stroke-width="1.2" fill="none"/>
<path d="M1445 1291.25V1283.25M1441.5 1283.25H1448.5" stroke="#ff2600" stroke-width="1.2" fill="none"/>
<path d="M1579.5 1303.6V1293.7M1576 1293.7H1583" stroke="#ff2600" stroke-width="1.2" fill="none"/>
<path d="M1355.5 1344 L1400 1304.25 L1445 1291.25 L1535 1296.7 L1579.5 1303.6 L1713.7 1333" stroke="#ff2600" stroke-width="2" fill="none" stroke-linejoin="round"/>
<rect x="1350.3" y="1338.8" width="10.4" height="10.4" fill="#ff2600"/>
<rect x="1394.8" y="1299.05" width="10.4" height="10.4" fill="#ff2600"/>
<rect x="1439.8" y="1286.05" width="10.4" height="10.4" fill="#ff2600"/>
<rect x="1529.8" y="1291.5" width="10.4" height="10.4" fill="#ff2600"/>
<rect x="1574.3" y="1298.4" width="10.4" height="10.4" fill="#ff2600"/>
<rect x="1708.5" y="1327.8" width="10.4" height="10.4" fill="#ff2600"/>
<path d="M1713.7 1325.4 L1735.5 1326.3" stroke="#0433ff" stroke-width="2" fill="none" stroke-linejoin="round"/>
<path d="M1400 1126.75V1099.5M1396.5 1099.5H1403.5" stroke="#0433ff" stroke-width="1.2" fill="none"/>
<path d="M1445 1197V1180.75M1441.5 1180.75H1448.5" stroke="#0433ff" stroke-width="1.2" fill="none"/>
<path d="M1535 1292.4V1286.5M1531.5 1286.5H1538.5" stroke="#0433ff" stroke-width="1.2" fill="none"/>
<path d="M1355.5 1344 L1400 1126.75 L1445 1197 L1535 1292.4 L1579.5 1308 L1713.7 1325.4" stroke="#0433ff" stroke-width="2" fill="none" stroke-linejoin="round"/>
<circle cx="1355.5" cy="1344" r="5.2" fill="#0433ff"/>
<circle cx="1400" cy="1126.75" r="5.2" fill="#0433ff"/>
<circle cx="1445" cy="1197" r="5.2" fill="#0433ff"/>
<circle cx="1535" cy="1292.4" r="5.2" fill="#0433ff"/>
<circle cx="1579.5" cy="1308" r="5.2" fill="#0433ff"/>
<circle cx="1713.7" cy="1325.4" r="5.2" fill="#0433ff"/>
<text x="1314.23" y="1351.6" font-size="21.3" font-weight="bold" fill="#000000" stroke="#000000" stroke-width="0.45">0</text>
<text x="1290.53" y="1280.85" font-size="21.3" font-weight="bold" fill="#000000" stroke="#000000" stroke-width="0.45">500</text>
<text x="1278.71" y="1210.1" font-size="21.3" font-weight="bold" fill="#000000" stroke="#000000" stroke-width="0.45">1000</text>
<text x="1278.71" y="1139.35" font-size="21.3" font-weight="bold" fill="#000000" stroke="#000000" stroke-width="0.45">1500</text>
<text x="1349.45" y="1369.3" font-size="21.8" font-weight="bold" fill="#000000" stroke="#000000" stroke-width="0.45">0</text>
<text x="1393.84" y="1369.3" font-size="21.8" font-weight="bold" fill="#000000" stroke="#000000" stroke-width="0.45">1</text>
<text x="1439.05" y="1369.3" font-size="21.8" font-weight="bold" fill="#000000" stroke="#000000" stroke-width="0.45">2</text>
<text x="1483.9" y="1369.3" font-size="21.8" font-weight="bold" fill="#000000" stroke="#000000" stroke-width="0.45">3</text>
<text x="1528.42" y="1369.3" font-size="21.8" font-weight="bold" fill="#000000" stroke="#000000" stroke-width="0.45">4</text>
<text x="1573.27" y="1369.3" font-size="21.8" font-weight="bold" fill="#000000" stroke="#000000" stroke-width="0.45">5</text>
<text x="1618.04" y="1369.3" font-size="21.8" font-weight="bold" fill="#000000" stroke="#000000" stroke-width="0.45">6</text>
<text x="1662.84" y="1369.3" font-size="21.8" font-weight="bold" fill="#000000" stroke="#000000" stroke-width="0.45">7</text>
<text x="1707.58" y="1369.3" font-size="21.8" font-weight="bold" fill="#000000" stroke="#000000" stroke-width="0.45">8</text>
<text x="1396.35" y="1297.37" font-size="18.7" font-weight="bold" fill="#ff2600" stroke="#ff2600" stroke-width="0.3">*</text>
<text x="1442.05" y="1280.17" font-size="18.7" font-weight="bold" fill="#ff2600" stroke="#ff2600" stroke-width="0.3">*</text>
<line x1="1759.5" y1="1073" x2="1790.8" y2="1073" stroke="#0433ff" stroke-width="2.2"/>
<circle cx="1775.15" cy="1073" r="5.5" fill="#0433ff"/>
<text x="1806.29" y="1081.1" font-size="22.35" font-weight="bold" fill="#0433ff" stroke="#0433ff" stroke-width="0.45">PTH(1-34)</text>
<text x="1911" y="1073.72" font-size="16.09" font-weight="bold" fill="#0433ff" stroke="#0433ff" stroke-width="0.2">tmr</text>
<line x1="1759.5" y1="1111.6" x2="1790.8" y2="1111.6" stroke="#ff2600" stroke-width="2.2"/>
<rect x="1769.65" y="1106.1" width="11" height="11" fill="#ff2600"/>
<text x="1806.28" y="1120" font-size="22.48" font-weight="bold" fill="#ff2600" stroke="#ff2600" stroke-width="0.45">Palm-PTH(1-34)</text>
<text x="1972.8" y="1112.58" font-size="16.19" font-weight="bold" fill="#ff2600" stroke="#ff2600" stroke-width="0.2">tmr</text>
<path d="M1132.3 1699V1556H1754.5" stroke="#000000" stroke-width="2.1" fill="none"/>
<path d="M1131.2 1599.6H1754.5" stroke="#000000" stroke-width="5" fill="none"/>
<path d="M1752.6 1555.1V1700" stroke="#000000" stroke-width="4.6" fill="none"/>
<path d="M1131.2 1697.8H1754.9" stroke="#000000" stroke-width="4.8" fill="none"/>
<text x="1467.36" y="1590.8" font-size="33.2" font-weight="bold" fill="#000000" stroke="#000000" stroke-width="0.45">AUC</text>
<text x="1610.68" y="1590.8" font-size="33.2" font-weight="bold" fill="#000000" stroke="#000000" stroke-width="0.45">Tmax (h)</text>
<text x="1137.25" y="1637" font-size="33.36" font-weight="bold" fill="#000000" stroke="#000000" stroke-width="0.45">PTH(1-34)</text>
<text x="1293.04" y="1621.3" font-size="20.82" font-weight="bold" fill="#000000" stroke="#000000" stroke-width="0.45">tmr</text>
<text x="1471.04" y="1639.8" font-size="33.2" font-weight="bold" fill="#000000" stroke="#000000" stroke-width="0.45">5,363</text>
<text x="1656.05" y="1639.8" font-size="33.2" font-weight="bold" fill="#000000" stroke="#000000" stroke-width="0.45">1.0</text>
<text x="1137.28" y="1686.3" font-size="32.9" font-weight="bold" fill="#000000" stroke="#000000" stroke-width="0.45">Palm-PTH(1-34)</text>
<text x="1381.04" y="1669.2" font-size="20.82" font-weight="bold" fill="#000000" stroke="#000000" stroke-width="0.45">tmr</text>
<text x="1470.96" y="1688.2" font-size="33.2" font-weight="bold" fill="#000000" stroke="#000000" stroke-width="0.45">2,626</text>
<text x="1656.21" y="1688.2" font-size="33.2" font-weight="bold" fill="#000000" stroke="#000000" stroke-width="0.45">2.0</text>
</g>
</svg>
</body></html>
